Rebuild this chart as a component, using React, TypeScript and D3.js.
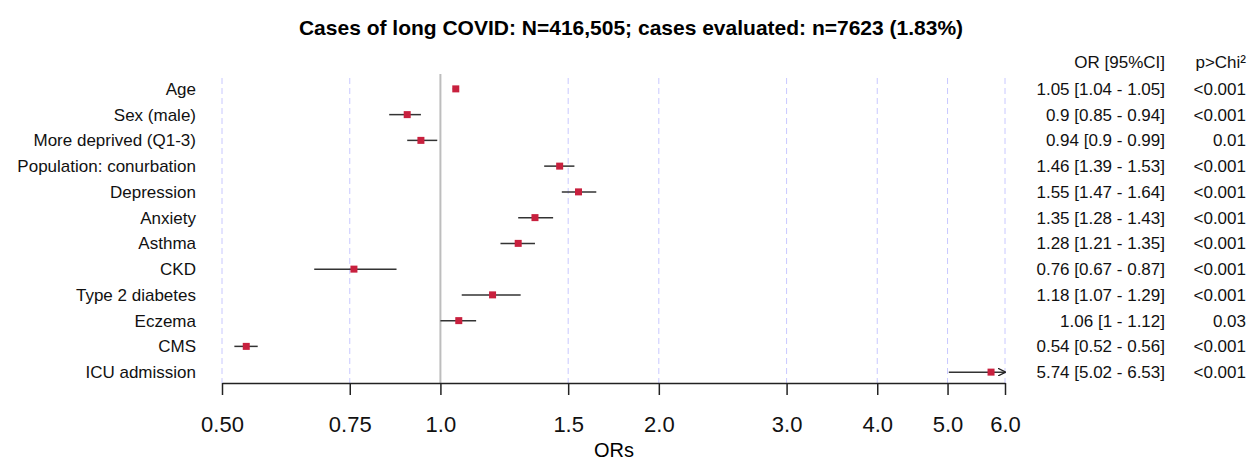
import React, { useRef, useEffect } from "react";
import * as d3 from "d3";

const labels = [
  "Age",
  "Sex (male)",
  "More deprived (Q1-3)",
  "Population: conurbation",
  "Depression",
  "Anxiety",
  "Asthma",
  "CKD",
  "Type 2 diabetes",
  "Eczema",
  "CMS",
  "ICU admission",
];
const ors = [1.05, 0.9, 0.94, 1.46, 1.55, 1.35, 1.28, 0.76, 1.18, 1.06, 0.54, 5.74];
const lows = [1.04, 0.85, 0.9, 1.39, 1.47, 1.28, 1.21, 0.67, 1.07, 1, 0.52, 5.02];
const highs = [1.05, 0.94, 0.99, 1.53, 1.64, 1.43, 1.35, 0.87, 1.29, 1.12, 0.56, 6.53];
const pvals = ["<0.001", "<0.001", "0.01", "<0.001", "<0.001", "<0.001", "<0.001", "<0.001", "<0.001", "0.03", "<0.001", "<0.001"];
const ticks = [0.5, 0.75, 1.0, 1.5, 2.0, 3.0, 4.0, 5.0, 6.0];
const tickLabels = ["0.50", "0.75", "1.0", "1.5", "2.0", "3.0", "4.0", "5.0", "6.0"];

const W = 1247;
const H = 460;
const FONT = "'Liberation Sans', Arial, sans-serif";

const App = () => {
  const ref = useRef<SVGSVGElement>(null);

  useEffect(() => {
    const svg = d3.select(ref.current);
    svg.selectAll("*").remove();

    const x = d3.scaleLog().domain([0.5, 6.0]).range([222, 1005]);
    const y = d3.scaleBand().domain(labels).range([76, 385]);
    const yc = (d: string) => (y(d) as number) + y.bandwidth() / 2;
    const axisY = 383;

    svg
      .append("text")
      .attr("x", 631)
      .attr("y", 35)
      .attr("text-anchor", "middle")
      .style("font-family", FONT)
      .style("font-weight", "bold")
      .style("font-size", "21px")
      .text("Cases of long COVID: N=416,505; cases evaluated: n=7623 (1.83%)");

    // grid
    svg
      .selectAll("line.grid")
      .data(ticks.filter((t) => t !== 1))
      .enter()
      .append("line")
      .attr("x1", (d) => x(d))
      .attr("x2", (d) => x(d))
      .attr("y1", 78)
      .attr("y2", axisY)
      .attr("stroke", "#c8c8ff")
      .attr("stroke-width", 1)
      .attr("stroke-dasharray", "6,4");

    svg
      .append("line")
      .attr("x1", x(1))
      .attr("x2", x(1))
      .attr("y1", 74)
      .attr("y2", axisY)
      .attr("stroke", "#bdbdbd")
      .attr("stroke-width", 2);

    // axis
    const axis = d3
      .axisBottom(x)
      .tickValues(ticks)
      .tickFormat((d, i) => tickLabels[i])
      .tickSize(12)
      .tickSizeOuter(0)
      .tickPadding(21);
    const g = svg.append("g").attr("transform", `translate(0,${axisY})`).call(axis);
    g.select(".domain").attr("stroke", "#222").attr("stroke-width", 1.5);
    g.selectAll(".tick line").attr("stroke", "#222").attr("stroke-width", 1.5);
    g.selectAll(".tick text")
      .style("font-family", FONT)
      .style("font-size", "22px")
      .attr("fill", "#111");

    svg
      .append("text")
      .attr("x", 614)
      .attr("y", 457)
      .attr("text-anchor", "middle")
      .style("font-family", FONT)
      .style("font-size", "20px")
      .text("ORs");

    svg
      .append("defs")
      .append("marker")
      .attr("id", "arr")
      .attr("viewBox", "0 0 10 10")
      .attr("refX", 9)
      .attr("refY", 5)
      .attr("markerWidth", 8)
      .attr("markerHeight", 8)
      .attr("markerUnits", "userSpaceOnUse")
      .attr("orient", "auto")
      .append("path")
      .attr("d", "M0,0 L10,5 L0,10")
      .attr("fill", "none")
      .attr("stroke", "#222")
      .attr("stroke-width", 1.5);

    const rows = labels.map((l, i) => ({ l, or: ors[i], lo: lows[i], hi: highs[i], p: pvals[i] }));

    // CI lines
    svg
      .selectAll("line.ci")
      .data(rows)
      .enter()
      .append("line")
      .attr("x1", (d) => x(Math.max(0.5, d.lo)))
      .attr("x2", (d) => x(Math.min(6.0, d.hi)))
      .attr("y1", (d) => yc(d.l))
      .attr("y2", (d) => yc(d.l))
      .attr("stroke", "#333")
      .attr("stroke-width", 1.5)
      .attr("marker-end", (d) => (d.hi > 6.0 ? "url(#arr)" : null));

    const s = 7;
    svg
      .selectAll("rect.pt")
      .data(rows)
      .enter()
      .append("rect")
      .attr("x", (d) => x(d.or) - s / 2)
      .attr("y", (d) => yc(d.l) - s / 2)
      .attr("width", s)
      .attr("height", s)
      .attr("fill", "#c8203e");

    const txt = (sel: any) => sel.style("font-family", FONT).style("font-size", "17px").attr("fill", "#111");

    svg
      .selectAll("text.lab")
      .data(rows)
      .enter()
      .append("text")
      .attr("x", 196)
      .attr("y", (d) => yc(d.l))
      .attr("dy", "0.35em")
      .attr("text-anchor", "end")
      .text((d) => d.l)
      .call(txt);

    svg
      .selectAll("text.or")
      .data(rows)
      .enter()
      .append("text")
      .attr("x", 1165)
      .attr("y", (d) => yc(d.l))
      .attr("dy", "0.35em")
      .attr("text-anchor", "end")
      .text((d) => `${d.or} [${d.lo} - ${d.hi}]`)
      .call(txt);

    svg
      .selectAll("text.p")
      .data(rows)
      .enter()
      .append("text")
      .attr("x", 1246)
      .attr("y", (d) => yc(d.l))
      .attr("dy", "0.35em")
      .attr("text-anchor", "end")
      .text((d) => d.p)
      .call(txt);

    svg
      .append("text")
      .attr("x", 1165)
      .attr("y", 62)
      .attr("dy", "0.35em")
      .attr("text-anchor", "end")
      .text("OR [95%CI]")
      .call(txt);

    svg
      .append("text")
      .attr("x", 1246)
      .attr("y", 62)
      .attr("dy", "0.35em")
      .attr("text-anchor", "end")
      .text("p>Chi²")
      .call(txt);
  }, []);

  return (
    <div style={{ position: "absolute", left: 0, top: 0 }}>
      <svg ref={ref} width={W} height={H} style={{ display: "block", background: "#fff" }}></svg>
    </div>
  );
};

export default App;
